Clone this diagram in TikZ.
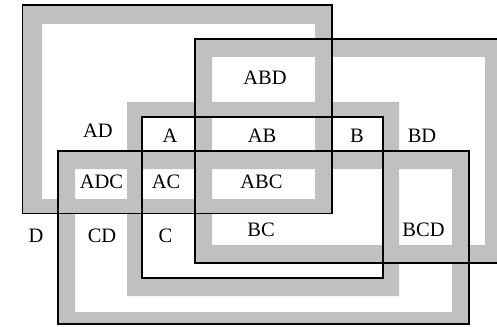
\documentclass[tikz,border=0pt]{standalone}
\usepackage{fontspec}
\setmainfont{Liberation Serif}
\definecolor{bandgray}{RGB}{192,192,192}
\begin{document}
\begin{tikzpicture}[x=1pt,y=-1pt,
  band/.style={fill=bandgray,even odd rule},
  frame/.style={draw=black,line width=1.8pt},
  lbl/.style={inner sep=0pt,font=\fontsize{20.5}{24}\selectfont}]
\useasboundingbox (0,0) rectangle (497,326);
\clip (0,0) rectangle (497,326);
% gray bands
\path[band] (22.5,5) rectangle (332,213.5) (42,24) rectangle (315,199);
\path[band] (195,39) rectangle (502,263) (212,57) rectangle (485,245);
\path[band] (127,102) rectangle (399,296) (142,117) rectangle (383,278);
\path[band] (58,151) rectangle (469,324) (75,169) rectangle (452,312);
% frames
\draw[frame] (22.5,5) rectangle (332,213.5);
\draw[frame] (195,39) rectangle (502,263);
\draw[frame] (142,117) rectangle (383,278);
\draw[frame] (58,151) rectangle (469,324);
% labels
\node[lbl] (abd) at (265,78) {ABD};
\node[lbl] (ad) at (98,131) {AD};
\node[lbl] (a) at (170,136) {A};
\node[lbl] (ab) at (262,136) {AB};
\node[lbl] (b) at (357,136) {B};
\node[lbl] (bd) at (422,136) {BD};
\node[lbl] (adc) at (101.5,182) {ADC};
\node[lbl] (ac) at (166,182) {AC};
\node[lbl] (abc) at (261.5,182) {ABC};
\node[lbl] (d) at (36,236) {D};
\node[lbl] (cd) at (102,236) {CD};
\node[lbl] (c) at (165.5,236) {C};
\node[lbl] (bc) at (261,230) {BC};
\node[lbl] (bcd) at (423.5,230) {BCD};
\end{tikzpicture}
\end{document}
